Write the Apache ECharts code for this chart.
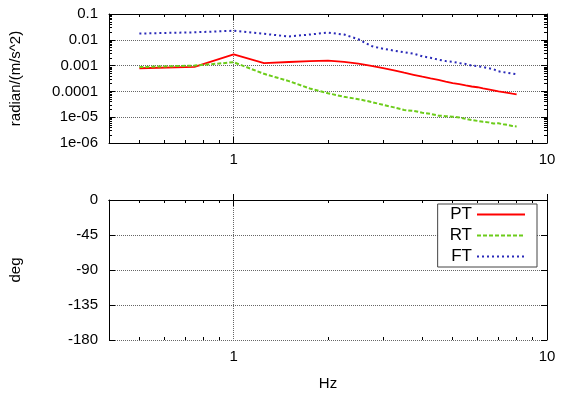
<!DOCTYPE html>
<html>
<head>
<meta charset="utf-8">
<script src="https://cdn.jsdelivr.net/npm/echarts@6/dist/echarts.min.js"></script>
<style>html,body{margin:0;padding:0;background:#fff}#c{width:564px;height:395px}</style>
</head>
<body>
<div id="c"></div>
<script>
// Frequencies (Hz)
var freqs = [0.5,0.75,1.0,1.25,1.5,1.75,2.0,2.25,2.5,2.75,3.0,3.25,3.5,3.75,4.0,4.25,4.5,4.75,5.0,5.25,5.5,5.75,6.0,6.25,6.5,6.75,7.0,7.25,7.5,7.75,8.0];
// Gain, radian/(m/s^2)
var PT = [0.00079,0.00089,0.0027,0.00125,0.00138,0.00148,0.00155,0.0014,0.0012,0.00097,0.0008,0.00065,0.00053,0.00044,0.00037,0.00032,0.00028,0.00024,0.00021,0.00019,0.00017,0.000155,0.000145,0.00013,0.00012,0.00011,0.0001,0.000094,0.000088,0.000082,0.000077];
var RT = [0.00088,0.001,0.00135,0.00048,0.00025,0.00013,0.000085,0.000062,0.00005,0.000039,0.00003,0.000024,0.000019,0.0000175,0.000015,0.0000135,0.0000115,0.000011,0.0000105,0.0000098,0.0000086,0.0000078,0.0000072,0.0000066,0.0000063,0.0000057,0.0000058,0.0000053,0.000005,0.0000046,0.0000044];
var FT = [0.0175,0.0195,0.0225,0.017,0.0135,0.016,0.019,0.016,0.0105,0.0057,0.0045,0.0038,0.0033,0.0029,0.0023,0.002,0.0017,0.0015,0.0014,0.00125,0.00115,0.001,0.00095,0.00088,0.0008,0.00072,0.0006,0.00056,0.00052,0.00049,0.00046];
// Tick labels
var xMajor = [1, 10];
var xMinor = [0.5,0.6,0.7,0.8,0.9,2,3,4,5,6,7,8,9];
var gainTicks = [1e-6,1e-5,1e-4,1e-3,1e-2,1e-1];
var gainLabels = ['1e-06','1e-05','0.0001','0.001','0.01','0.1'];
var phaseTicks = [-180,-135,-90,-45,0];

var gainMinor = [];
for (var i = 0; i < gainTicks.length - 1; i++) {
  for (var k = 2; k <= 9; k++) gainMinor.push(+(gainTicks[i] * k).toPrecision(3));
}
function pairs(ys){ return freqs.map(function(f,i){ return [f, ys[i]]; }); }

var FONT = 'Liberation Sans';
var lineBlack = {show:true, lineStyle:{color:'#000', width:1}};
var grid = {type:'dotted', color:'#666', width:1};

function xAx(gi, pos, opts){
  var a = {type:'log', gridIndex:gi, position:pos, min:0.4, max:10, logBase:10,
    axisLine: opts.line ? lineBlack : {show:false},
    axisTick: {show:true, inside:true, length: opts.minor ? 3 : 6, customValues: opts.minor ? xMinor : xMajor, lineStyle:{color:'#000'}},
    axisLabel: opts.label ? {show:true, customValues:xMajor, color:'#000', fontFamily:FONT, fontSize:15, margin:9, showMinLabel:true, showMaxLabel:true, formatter:function(v){return String(Math.round(v));}} : {show:false},
    splitLine: opts.split ? {show:true, lineStyle:grid} : {show:false}
  };
  if (opts.name) { a.name = opts.name; a.nameLocation='middle'; a.nameGap=36; a.nameTextStyle={color:'#000', fontFamily:FONT, fontSize:15}; }
  return a;
}
function yGain(pos, opts){
  var a = {type:'log', gridIndex:0, position:pos, min:1e-6, max:0.1, logBase:10,
    axisLine: opts.line ? lineBlack : {show:false},
    axisTick: {show:true, inside:true, length: opts.minor ? 3 : 6, customValues: opts.minor ? gainMinor : gainTicks, lineStyle:{color:'#000'}},
    axisLabel: opts.label ? {show:true, customValues:gainTicks, color:'#000', fontFamily:FONT, fontSize:15, margin:11, showMinLabel:true, showMaxLabel:true,
      formatter:function(v){ var e = Math.round(Math.log10(v)); return gainLabels[e+6]; }} : {show:false},
    splitLine: opts.split ? {show:true, lineStyle:grid} : {show:false}
  };
  if (opts.name) { a.name = opts.name; a.nameLocation='middle'; a.nameGap=86; a.nameTextStyle={color:'#000', fontFamily:FONT, fontSize:15}; }
  return a;
}
function yPhase(pos, opts){
  var a = {type:'value', gridIndex:1, position:pos, min:-180, max:0, interval:45,
    axisLine: lineBlack,
    axisTick: {show:true, inside:true, length:6, lineStyle:{color:'#000'}},
    axisLabel: opts.label ? {show:true, color:'#000', fontFamily:FONT, fontSize:15, margin:11, showMinLabel:true, showMaxLabel:true} : {show:false},
    splitLine: opts.split ? {show:true, lineStyle:grid} : {show:false}
  };
  if (opts.name) { a.name = opts.name; a.nameLocation='middle'; a.nameGap=86; a.nameTextStyle={color:'#000', fontFamily:FONT, fontSize:15}; }
  return a;
}

var chart = echarts.init(document.getElementById('c'), null, {renderer:'canvas'});
chart.setOption({
  animation:false,
  backgroundColor:'#fff',
  textStyle:{fontFamily:FONT},
  grid:[
    {left:109, right:17, top:14, height:129},
    {left:109, right:17, top:200, height:140}
  ],
  xAxis:[
    xAx(0,'bottom',{line:true,label:true,split:true}),
    xAx(0,'top',{line:true}),
    xAx(0,'bottom',{minor:true}),
    xAx(0,'top',{minor:true}),
    xAx(1,'bottom',{line:true,label:true,split:true,name:'Hz'}),
    xAx(1,'top',{line:true}),
    xAx(1,'bottom',{minor:true}),
    xAx(1,'top',{minor:true})
  ],
  yAxis:[
    yGain('left',{line:true,label:true,split:true,name:'radian/(m/s^2)'}),
    yGain('right',{line:true}),
    yGain('left',{minor:true}),
    yGain('right',{minor:true}),
    yPhase('left',{label:true,split:true,name:'deg'}),
    yPhase('right',{})
  ],
  legend:{
    orient:'vertical', right:27, top:204, align:'right',
    padding:[2,11,2,12], itemGap:4, itemWidth:48, itemHeight:14,
    backgroundColor:'#fff', borderColor:'#444', borderWidth:1, borderRadius:0,
    itemStyle:{opacity:0},
    textStyle:{color:'#000', fontFamily:FONT, fontSize:17},
    data:['PT','RT','FT']
  },
  series:[
    {name:'PT', type:'line', xAxisIndex:0, yAxisIndex:0, data:pairs(PT), symbol:'none', showSymbol:false,
      lineStyle:{color:'#ff0000', width:1.8, type:'solid'}, itemStyle:{color:'#ff0000'}},
    {name:'RT', type:'line', xAxisIndex:0, yAxisIndex:0, data:pairs(RT), symbol:'none', showSymbol:false,
      lineStyle:{color:'#6ccc1a', width:2, type:[4,2]}, itemStyle:{color:'#6ccc1a'}},
    {name:'FT', type:'line', xAxisIndex:0, yAxisIndex:0, data:pairs(FT), symbol:'none', showSymbol:false,
      lineStyle:{color:'#2a2ab8', width:2, type:[2,3]}, itemStyle:{color:'#2a2ab8'}}
  ]
});
</script>
</body>
</html>
